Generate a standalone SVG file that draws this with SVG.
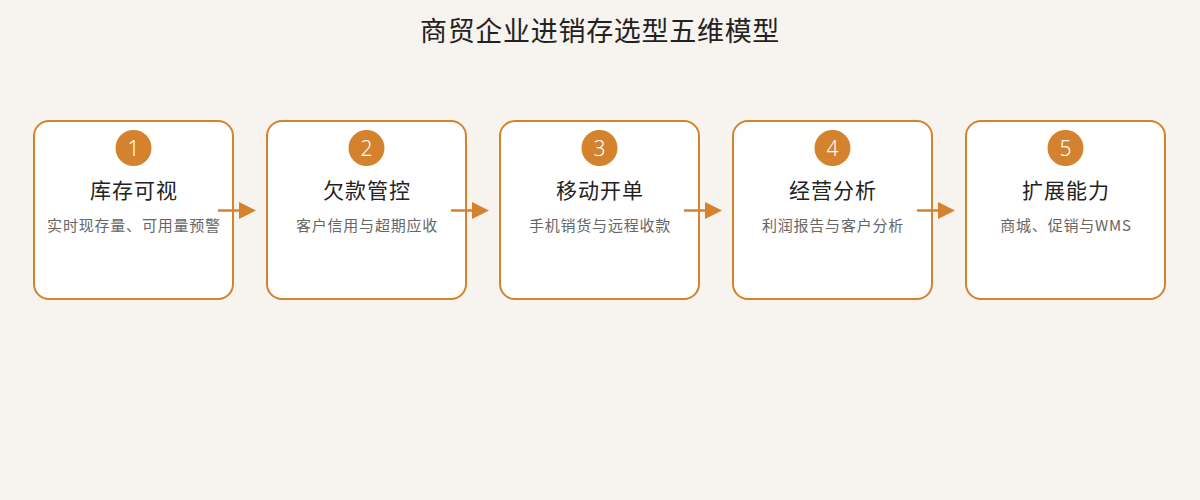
<svg xmlns="http://www.w3.org/2000/svg" width="1200" height="500" viewBox="0 0 1200 500">
  <defs>
    <style>
      .card { fill: #ffffff; stroke: #d4822e; stroke-width: 2; }
      .badge { fill: #d4822e; }
      .num { fill: #ffffff; font-family: "Noto Sans", "Noto Sans CJK SC", sans-serif; font-size: 21px; font-weight: 300; text-anchor: middle; }
      .title { fill: #222222; font-family: "Noto Sans CJK SC", sans-serif; font-size: 21px; letter-spacing: 1px; text-anchor: middle; }
      .sub { fill: #666666; font-family: "Noto Sans CJK SC", sans-serif; font-size: 15px; letter-spacing: 0.8px; text-anchor: middle; }
      .head { fill: #222222; font-family: "Noto Sans CJK SC", sans-serif; font-size: 27px; letter-spacing: 0.7px; text-anchor: middle; }
      .conn { stroke: #d4822e; stroke-width: 2.5; fill: none; }
      .tip { fill: #d4822e; }
    </style>
  </defs>
  <rect width="1200" height="500" fill="#f7f4ef"/>
  <text class="head" x="600" y="41">商贸企业进销存选型五维模型</text>

  <g id="node1">
    <rect class="card" x="34" y="121" width="199" height="178" rx="15"/>
    <circle class="badge" cx="133.5" cy="148" r="18"/>
    <text class="num" x="133.5" y="155.5">1</text>
    <text class="title" x="134" y="198">库存可视</text>
    <text class="sub" x="134" y="231">实时现存量、可用量预警</text>
  </g>
  <g id="node2">
    <rect class="card" x="267" y="121" width="199" height="178" rx="15"/>
    <circle class="badge" cx="366.5" cy="148" r="18"/>
    <text class="num" x="366.5" y="155.5">2</text>
    <text class="title" x="367" y="198">欠款管控</text>
    <text class="sub" x="367" y="231">客户信用与超期应收</text>
  </g>
  <g id="node3">
    <rect class="card" x="500" y="121" width="199" height="178" rx="15"/>
    <circle class="badge" cx="599.5" cy="148" r="18"/>
    <text class="num" x="599.5" y="155.5">3</text>
    <text class="title" x="600" y="198">移动开单</text>
    <text class="sub" x="600" y="231">手机销货与远程收款</text>
  </g>
  <g id="node4">
    <rect class="card" x="733" y="121" width="199" height="178" rx="15"/>
    <circle class="badge" cx="832.5" cy="148" r="18"/>
    <text class="num" x="832.5" y="155.5">4</text>
    <text class="title" x="833" y="198">经营分析</text>
    <text class="sub" x="833" y="231">利润报告与客户分析</text>
  </g>
  <g id="node5">
    <rect class="card" x="966" y="121" width="199" height="178" rx="15"/>
    <circle class="badge" cx="1065.5" cy="148" r="18"/>
    <text class="num" x="1065.5" y="155.5">5</text>
    <text class="title" x="1066" y="198">扩展能力</text>
    <text class="sub" x="1066" y="231">商城、促销与WMS</text>
  </g>

  <g id="connectors">
    <line class="conn" x1="218" y1="210.5" x2="241" y2="210.5"/>
    <polygon class="tip" points="239,202 256,210.5 239,219"/>
    <line class="conn" x1="451" y1="210.5" x2="474" y2="210.5"/>
    <polygon class="tip" points="472,202 489,210.5 472,219"/>
    <line class="conn" x1="684" y1="210.5" x2="707" y2="210.5"/>
    <polygon class="tip" points="705,202 722,210.5 705,219"/>
    <line class="conn" x1="917" y1="210.5" x2="940" y2="210.5"/>
    <polygon class="tip" points="938,202 955,210.5 938,219"/>
  </g>
</svg>
